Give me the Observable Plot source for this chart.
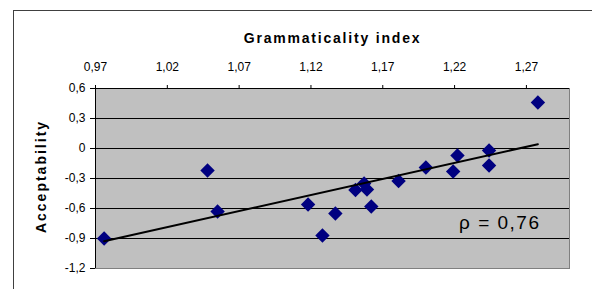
<!DOCTYPE html>
<html>
<head>
<meta charset="utf-8">
<script src="https://cdn.jsdelivr.net/npm/d3@7"></script>
<script src="https://cdn.jsdelivr.net/npm/@observablehq/plot@0.6"></script>
<style>
  html, body { margin: 0; padding: 0; background: white; }
  #wrap { position: relative; width: 592px; height: 289px; overflow: hidden; }
  #border { position: absolute; left: 13px; top: 10px; width: 700px; height: 400px;
            border-top: 1px solid #404040; border-left: 1px solid #404040; pointer-events: none; }
</style>
</head>
<body>
<div id="wrap"><div id="border"></div></div>
<script>
// Grammaticality index (x) and acceptability (y) per item
const gramIndex = [0.976, 1.048, 1.055, 1.118, 1.137, 1.128, 1.151, 1.157, 1.159, 1.162, 1.181, 1.200, 1.219, 1.222, 1.244, 1.244, 1.278];
const acceptability = [-0.90, -0.22, -0.63, -0.56, -0.65, -0.87, -0.415, -0.35, -0.41, -0.58, -0.325, -0.19, -0.23, -0.07, -0.02, -0.17, 0.46];
// Linear trend line end points
const trendX = [0.976, 1.278];
const trendY = [-0.927, 0.043];
// Axis ticks
const xTicks = [0.97, 1.02, 1.07, 1.12, 1.17, 1.22, 1.27];
const yTicks = [0.6, 0.3, 0, -0.3, -0.6, -0.9, -1.2];
const xTitle = "Grammaticality index";
const yTitle = "Acceptability";
const rhoLabel = "ρ = 0,76";

const points = gramIndex.map((x, i) => ({x, y: acceptability[i]}));
const trend = trendX.map((x, i) => ({x, y: trendY[i]}));
const fmtX = d => d.toFixed(2).replace(".", ",");
const fmtY = d => d === 0 ? "0" : d.toFixed(1).replace(".", ",");
const font = "'Liberation Sans', Arial, sans-serif";

const chart = Plot.plot({
  width: 592,
  height: 289,
  marginLeft: 95,
  marginRight: 23,
  marginTop: 88,
  marginBottom: 21,
  style: {fontFamily: font, background: "transparent", overflow: "visible"},
  x: {domain: [0.97, 1.30]},
  y: {domain: [-1.2, 0.6]},
  marks: [
    Plot.frame({fill: "#c0c0c0", stroke: "#808080"}),
    Plot.ruleY(yTicks.filter(d => d > -1.2), {stroke: "black", strokeWidth: 1}),
    Plot.ruleX([0.97], {stroke: "black", strokeWidth: 1}),
    Plot.axisX({anchor: "top", ticks: xTicks, tickFormat: fmtX, tickSize: 4, tickPadding: 14,
                fontSize: 12, label: null, stroke: "black", fill: "black"}),
    Plot.axisY({anchor: "left", ticks: yTicks, tickFormat: fmtY, tickSize: 5, tickPadding: 5,
                fontSize: 12, label: null, stroke: "black", fill: "black"}),
    Plot.text([xTitle], {frameAnchor: "top", dy: -50, fontSize: 14, fontWeight: "bold", fill: "black",
                lineAnchor: "middle", ariaLabel: () => "x-title"}),
    Plot.text([yTitle], {frameAnchor: "left", dx: -54, dy: -2, rotate: -90, textAnchor: "middle", fontSize: 14,
                fontWeight: "bold", fill: "black", lineAnchor: "middle", ariaLabel: () => "y-title"}),
    Plot.dot(points, {x: "x", y: "y", symbol: "diamond2", r: 6.5, fill: "#000080", stroke: "none"}),
    Plot.line(trend, {x: "x", y: "y", stroke: "black", strokeWidth: 2}),
    Plot.text([rhoLabel], {frameAnchor: "bottom-right", dx: -29, dy: -46, textAnchor: "end", lineAnchor: "middle",
                fontSize: 19, fill: "black", ariaLabel: () => "rho-label"})
  ]
});
const svg = d3.select(chart);
svg.selectAll('text[aria-label="x-title"]').style("letter-spacing", "1.8px");
svg.selectAll('text[aria-label="y-title"]').style("letter-spacing", "2px");
svg.selectAll('text[aria-label="rho-label"]').style("letter-spacing", "1.5px");
chart.style.position = "absolute";
chart.style.left = "0px";
chart.style.top = "0px";
document.getElementById("wrap").appendChild(chart);
</script>
</body>
</html>
